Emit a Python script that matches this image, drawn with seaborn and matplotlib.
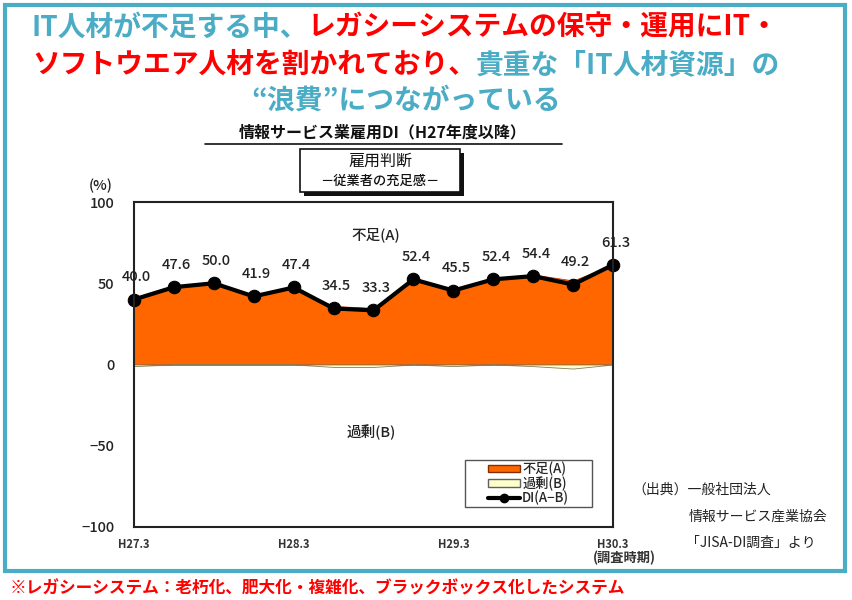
import numpy as np
import pandas as pd
import matplotlib
matplotlib.use("Agg")
import matplotlib.pyplot as plt
import seaborn as sns
from matplotlib.patches import Rectangle, Patch
from matplotlib.lines import Line2D
from matplotlib.offsetbox import TextArea, HPacker, AnnotationBbox

# --- data ---
periods = ["H27.3", "H27.6", "H27.9", "H27.12", "H28.3", "H28.6", "H28.9",
           "H28.12", "H29.3", "H29.6", "H29.9", "H29.12", "H30.3"]
di_values = [40.0, 47.6, 50.0, 41.9, 47.4, 34.5, 33.3, 52.4, 45.5, 52.4, 54.4, 49.2, 61.3]
surplus_b = [1.0, 0.0, 0.0, 0.0, 0.0, 1.5, 1.5, 0.0, 1.0, 0.0, 1.0, 2.5, 0.0]
shortage_a = [d + s for d, s in zip(di_values, surplus_b)]
tick_labels = ["H27.3", "H28.3", "H29.3", "H30.3"]
tick_idx = [0, 4, 8, 12]

df = pd.DataFrame({"idx": range(len(periods)), "period": periods,
                   "A": shortage_a, "B": surplus_b, "DI": di_values})

sns.set_style("white")
plt.rcParams['font.family'] = ['Noto Sans CJK JP', 'DejaVu Sans']

TEAL = "#4bacc6"
RED = "#ff0000"
ORANGE = "#ff6600"
CREAM = "#ffffcc"

W, H = 852, 600
fig = plt.figure(figsize=(8.52, 6.0), dpi=100)
fx = lambda x: x / W
fy = lambda y: 1 - y / H

ax = fig.add_axes([fx(134), fy(527), fx(613) - fx(134), fy(202) - fy(527)])

ax.fill_between(df["idx"], 0, df["A"], color=ORANGE, edgecolor="#c04000", linewidth=0.6)
ax.fill_between(df["idx"], 0, -df["B"], color=CREAM, edgecolor="#808060", linewidth=0.6)
sns.lineplot(data=df, x="idx", y="DI", ax=ax, color="black", linewidth=3,
             marker="o", markersize=9, markeredgecolor="black")
for ln in ax.lines:
    ln.set_clip_on(False)

for i, v in zip(df["idx"], df["DI"]):
    ax.annotate(f"{v:.1f}", (i, v), xytext=(2, 11), textcoords="offset points",
                ha="center", va="bottom", fontsize=10.5, fontweight="medium", color="#222222")

ax.set_xlim(0, 12)
ax.set_ylim(-100, 100)
ax.set_yticks([-100, -50, 0, 50, 100])
ax.set_yticklabels(["−100", "−50", "0", "50", "100"], fontsize=10.5,
                   fontweight="medium", color="#222222")
ax.set_xticks(tick_idx)
ax.set_xticklabels(tick_labels, fontsize=8, fontweight="bold", color="#333333")
ax.tick_params(axis="y", direction="in", length=4, pad=14)
ax.tick_params(axis="x", length=0, pad=8)
ax.set_xlabel("")
ax.set_ylabel("")
for sp in ax.spines.values():
    sp.set_color("#222222")
    sp.set_linewidth(1.5)

ax.text(6.05, 80, "不足(A)", ha="center", va="center", fontsize=10.5,
        fontweight="medium", color="#222222")
ax.text(5.95, -42, "過剰(B)", ha="center", va="center", fontsize=10.5,
        fontweight="medium", color="#222222")

# legend: frame drawn separately so it can be wider than its contents
lx0, lx1 = (465 - 134) / 479, (592 - 134) / 479
ly0, ly1 = (527 - 507) / 324, (527 - 460) / 324
ax.add_patch(Rectangle((lx0, ly0), lx1 - lx0, ly1 - ly0, transform=ax.transAxes,
                       facecolor="white", edgecolor="#555555", lw=1.0, zorder=4))
handles = [Patch(facecolor=ORANGE, edgecolor="#803000", label="不足(A)"),
           Patch(facecolor=CREAM, edgecolor="#606060", label="過剰(B)"),
           Line2D([0], [0], color="black", lw=3, marker="o", markersize=6, label="DI(A−B)")]
leg = ax.legend(handles=handles, loc="center", bbox_to_anchor=((lx0 + lx1) / 2, (ly0 + ly1) / 2),
                prop=dict(size=9.5, weight="medium"), frameon=False,
                handlelength=2.4, handleheight=0.5, labelspacing=0.0, borderpad=0,
                handletextpad=0.2, borderaxespad=0)
leg.set_zorder(5)

fig.text(fx(101), fy(186), "(%)", ha="center", va="center", fontsize=10.5,
         fontweight="medium", color="#222222")
fig.text(fx(656), fy(558), "(調査時期)", ha="right", va="center", fontsize=9.5,
         color="#333333", fontweight="bold")

# subtitle with underline
fig.text(fx(383), fy(132), "情報サービス業雇用DI（H27年度以降）", ha="center", va="center",
         fontsize=11.5, fontweight="bold", color="#111111")
fig.add_artist(Line2D([fx(205), fx(562)], [fy(144), fy(144)], color="#111111", lw=1.2))

# judgement box with shadow
fig.patches.append(Rectangle((fx(304), fy(196)), fx(464) - fx(304), fy(153) - fy(196),
                             transform=fig.transFigure, facecolor="#111111", edgecolor="none"))
fig.patches.append(Rectangle((fx(300), fy(192)), fx(460) - fx(300), fy(149) - fy(192),
                             transform=fig.transFigure, facecolor="white", edgecolor="#111111", lw=1.2))
fig.text(fx(380), fy(161), "雇用判断", ha="center", va="center", fontsize=11.5, color="#111111")
fig.text(fx(380), fy(181), "－従業者の充足感－", ha="center", va="center", fontsize=9.5,
         fontweight="medium", color="#111111")

# source
src_kw = dict(ha="left", va="center", fontsize=10, color="#222222")
fig.text(fx(632), fy(490), "（出典）一般社団法人", **src_kw)
fig.text(fx(689), fy(517), "情報サービス産業協会", **src_kw)
fig.text(fx(686), fy(543), "「JISA-DI調査」より", **src_kw)

# headline with mixed colours
def headline(parts, x, y, size=20):
    kids = [TextArea(s, textprops=dict(color=c, fontsize=size, fontweight="bold"))
            for s, c in parts]
    box = HPacker(children=kids, pad=0, sep=0, align="baseline")
    ab = AnnotationBbox(box, (x, y), xycoords="figure fraction", frameon=False,
                        box_alignment=(0.5, 0.5), pad=0)
    fig.add_artist(ab)

headline([("IT人材が不足する中、", TEAL), ("レガシーシステムの保守・運用にIT・", RED)], fx(405), fy(28))
headline([("ソフトウエア人材を割かれており、", RED), ("貴重な「IT人材資源」の", TEAL)], fx(406), fy(65))
headline([("“浪費”につながっている", TEAL)], fx(406), fy(100))

# outer frame
fig.patches.append(Rectangle((fx(5), fy(571)), fx(845) - fx(5), fy(5) - fy(571),
                             transform=fig.transFigure, facecolor="none", edgecolor=TEAL, lw=3))

fig.text(fx(10), fy(588), "※レガシーシステム：老朽化、肥大化・複雑化、ブラックボックス化したシステム",
         ha="left", va="center", fontsize=12, fontweight="bold", color=RED)

fig.savefig("out.png", dpi=100)
